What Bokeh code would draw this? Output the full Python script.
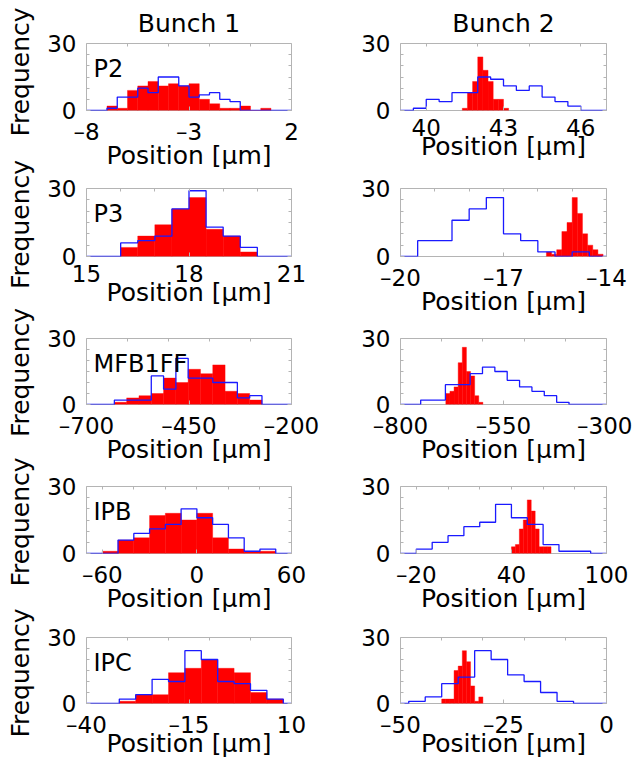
import math
from bokeh.plotting import figure
from bokeh.layouts import column, row
from bokeh.models import FixedTicker, LinearAxis, Label, Range1d, CustomJSTickFormatter
from bokeh.embed import file_html
from bokeh.resources import INLINE

FONT = "DejaVu Sans"
GREY = "#b4b4b4"
RED = "#ff0000"
BLUE = "#1a1aff"

# ---------------- data ----------------
# Row 1, Bunch 1 (P2)
p2_b1_range = [-8, 2]
p2_b1_ticks = [-8, -3, 2]
p2_b1_top_ticks = [-6, -4, -2, 0]
p2_b1_red_edges = [-7.0, -6.5, -6.0, -5.5, -5.0, -4.5, -4.0, -3.5, -3.0, -2.5, -2.0, -1.5, -1.0, -0.5, 0.0, 0.5, 1.0]
p2_b1_red_counts = [2, 1, 9, 11, 13, 11, 12, 11, 12, 5, 3, 1, 1, 2, 0, 1]
p2_b1_blue_edges = [-7.0, -6.5, -6.0, -5.5, -5.0, -4.5, -4.0, -3.5, -3.0, -2.5, -2.0, -1.5, -1.0, -0.5]
p2_b1_blue_counts = [1, 6, 6, 10, 8, 15, 15, 11, 6, 7, 8, 5, 4]

# Row 1, Bunch 2
p2_b2_range = [39, 47]
p2_b2_ticks = [40, 43, 46]
p2_b2_top_ticks = [40, 42, 44, 46]
p2_b2_red_edges = [41.4, 41.6, 41.8, 42.0, 42.2, 42.4, 42.6, 42.8, 43.0, 43.2]
p2_b2_red_counts = [1, 8, 13, 24, 18, 13, 5, 5, 1]
p2_b2_blue_edges = [39.5, 40.0, 40.5, 41.0, 41.5, 42.0, 42.5, 43.0, 43.5, 44.0, 44.5, 45.0, 45.5, 46.0]
p2_b2_blue_counts = [1, 5, 4, 8, 8, 15, 14, 11, 9, 11, 6, 4, 2]

# Row 2, Bunch 1 (P3)
p3_b1_range = [15, 21]
p3_b1_ticks = [15, 18, 21]
p3_b1_top_ticks = [16, 17, 18, 19, 20]
p3_b1_red_edges = [16.0, 16.5, 17.0, 17.5, 18.0, 18.5, 19.0, 19.5, 20.0]
p3_b1_red_counts = [4, 9, 14, 21, 26, 12, 9, 2]
p3_b1_blue_edges = [16.0, 16.5, 17.0, 17.5, 18.0, 18.5, 19.0, 19.5, 20.0]
p3_b1_blue_counts = [6, 7, 9, 21, 29, 13, 9, 4]

# Row 2, Bunch 2
p3_b2_range = [-20, -14]
p3_b2_ticks = [-20, -17, -14]
p3_b2_top_ticks = [-19, -18, -17, -16, -15]
p3_b2_red_edges = [-15.75, -15.6, -15.45, -15.3, -15.15, -15.0, -14.85, -14.7, -14.55, -14.4, -14.25, -14.1]
p3_b2_red_counts = [2, 1, 3, 11, 15, 26, 19, 10, 5, 3, 1]
p3_b2_blue_edges = [-19.5, -19.0, -18.5, -18.0, -17.5, -17.0, -16.5, -16.0, -15.5, -15.0, -14.5]
p3_b2_blue_counts = [7, 7, 16, 21, 26, 10, 7, 2, 0, 2]

# Row 3, Bunch 1 (MFB1FF)
mfb_b1_range = [-700, -200]
mfb_b1_ticks = [-700, -450, -200]
mfb_b1_top_ticks = [-600, -500, -400, -300]
mfb_b1_red_edges = [-632, -602, -572, -542, -512, -482, -452, -422, -392, -362, -332, -302, -272]
mfb_b1_red_counts = [1, 3, 4, 5, 12, 10, 16, 14, 18, 6, 5, 2]
mfb_b1_blue_edges = [-632, -602, -572, -542, -512, -482, -452, -422, -392, -362, -332, -302, -272]
mfb_b1_blue_counts = [2, 2, 2, 13, 7, 21, 12, 12, 10, 10, 3, 4]

# Row 3, Bunch 2
mfb_b2_range = [-800, -300]
mfb_b2_ticks = [-800, -550, -300]
mfb_b2_top_ticks = [-700, -600, -500, -400]
mfb_b2_red_edges = [-690, -680, -670, -660, -650, -640, -630, -620, -610, -600]
mfb_b2_red_counts = [5, 6, 8, 19, 26, 15, 13, 4, 1]
mfb_b2_blue_edges = [-751, -721, -691, -661, -631, -601, -571, -541, -511, -481, -451, -421, -391]
mfb_b2_blue_counts = [2, 2, 9, 9, 14, 17, 15, 11, 8, 6, 4, 1]

# Row 4, Bunch 1 (IPB)
ipb_b1_range = [-70, 60]
ipb_b1_ticks = [-60, 0, 60]
ipb_b1_top_ticks = [-60, -40, -20, 0, 20, 40]
ipb_b1_red_edges = [-60, -50, -40, -30, -20, -10, 0, 10, 20, 30, 40, 50]
ipb_b1_red_counts = [1, 6, 7, 17, 18, 15, 18, 7, 2, 1, 1]
ipb_b1_blue_edges = [-50, -40, -30, -20, -10, 0, 10, 20, 30, 40, 50]
ipb_b1_blue_counts = [6, 9, 11, 13, 20, 16, 13, 7, 1, 2]

# Row 4, Bunch 2
ipb_b2_range = [-30, 100]
ipb_b2_ticks = [-20, 40, 100]
ipb_b2_top_ticks = [-20, 0, 20, 40, 60, 80]
ipb_b2_red_edges = [40, 42.5, 45, 47.5, 50, 52.5, 55, 57.5, 60, 62.5, 65]
ipb_b2_red_counts = [3, 4, 11, 15, 24, 19, 11, 3, 3, 3]
ipb_b2_blue_edges = [-20, -10, 0, 10, 20, 30, 40, 50, 60, 70, 80, 90]
ipb_b2_blue_counts = [2, 5, 8, 12, 14, 22, 16, 13, 4, 1, 1]

# Row 5, Bunch 1 (IPC)
ipc_b1_range = [-40, 10]
ipc_b1_ticks = [-40, -15, 10]
ipc_b1_top_ticks = [-30, -20, -10, 0]
ipc_b1_red_edges = [-32, -28, -24, -20, -16, -12, -8, -4, 0, 4, 8]
ipc_b1_red_counts = [1, 4, 4, 14, 16, 20, 16, 14, 5, 2]
ipc_b1_blue_edges = [-32, -28, -24, -20, -16, -12, -8, -4, 0, 4, 8]
ipc_b1_blue_counts = [2, 4, 11, 10, 24, 20, 10, 9, 6, 2]

# Row 5, Bunch 2
ipc_b2_range = [-50, 0]
ipc_b2_ticks = [-50, -25, 0]
ipc_b2_top_ticks = [-40, -30, -20, -10]
ipc_b2_red_edges = [-40, -39, -38, -37, -36, -35, -34, -33, -32, -31, -30]
ipc_b2_red_counts = [2, 2, 2, 15, 17, 24, 19, 8, 1, 3]
ipc_b2_blue_edges = [-48, -44, -40, -36, -32, -28, -24, -20, -16, -12, -8]
ipc_b2_blue_counts = [1, 3, 9, 12, 24, 20, 13, 10, 5, 1]

row_names = ["P2", "P3", "MFB1FF", "IPB", "IPC"]
col_titles = ["Bunch 1", "Bunch 2"]
y_range_vals = [0, 30]
y_ticks = [0, 30]
y_minor_ticks = [5, 10, 15, 20, 25]
x_label = "Position [\u00b5m]"
y_label = "Frequency"

panels = [
    [
        (p2_b1_range, p2_b1_ticks, p2_b1_top_ticks, p2_b1_red_edges, p2_b1_red_counts, p2_b1_blue_edges, p2_b1_blue_counts),
        (p2_b2_range, p2_b2_ticks, p2_b2_top_ticks, p2_b2_red_edges, p2_b2_red_counts, p2_b2_blue_edges, p2_b2_blue_counts),
    ],
    [
        (p3_b1_range, p3_b1_ticks, p3_b1_top_ticks, p3_b1_red_edges, p3_b1_red_counts, p3_b1_blue_edges, p3_b1_blue_counts),
        (p3_b2_range, p3_b2_ticks, p3_b2_top_ticks, p3_b2_red_edges, p3_b2_red_counts, p3_b2_blue_edges, p3_b2_blue_counts),
    ],
    [
        (mfb_b1_range, mfb_b1_ticks, mfb_b1_top_ticks, mfb_b1_red_edges, mfb_b1_red_counts, mfb_b1_blue_edges, mfb_b1_blue_counts),
        (mfb_b2_range, mfb_b2_ticks, mfb_b2_top_ticks, mfb_b2_red_edges, mfb_b2_red_counts, mfb_b2_blue_edges, mfb_b2_blue_counts),
    ],
    [
        (ipb_b1_range, ipb_b1_ticks, ipb_b1_top_ticks, ipb_b1_red_edges, ipb_b1_red_counts, ipb_b1_blue_edges, ipb_b1_blue_counts),
        (ipb_b2_range, ipb_b2_ticks, ipb_b2_top_ticks, ipb_b2_red_edges, ipb_b2_red_counts, ipb_b2_blue_edges, ipb_b2_blue_counts),
    ],
    [
        (ipc_b1_range, ipc_b1_ticks, ipc_b1_top_ticks, ipc_b1_red_edges, ipc_b1_red_counts, ipc_b1_blue_edges, ipc_b1_blue_counts),
        (ipc_b2_range, ipc_b2_ticks, ipc_b2_top_ticks, ipc_b2_red_edges, ipc_b2_red_counts, ipc_b2_blue_edges, ipc_b2_blue_counts),
    ],
]

# ---------------- layout geometry (page has no margin) ----------------
strip_width = 44
col_widths = [276, 312]
col_left = [40, 80]
col_right = [29, 26]
row_heights = [172, 147, 148, 148, 145]
row_top = [43, 16, 19, 19, 22]
row_bottom = [62, 63, 63, 62, 56]
row_lbl_standoff = [8, 8, 8, 8, 8]
row_axlbl_standoff = [-7, -7, -7, -7, -12]
freq_shift = [-5, 2, 1, 2, 2]
total_height = sum(row_heights)

minus_fmt = CustomJSTickFormatter(code="""
    return tick < 0 ? "\\u2013" + Math.abs(tick) : String(tick);
""")
blank_fmt = CustomJSTickFormatter(code="return '';")


def make_panel(ri, ci, spec):
    xr, ticks, top_ticks, r_edges, r_counts, b_edges, b_counts = spec
    p = figure(
        width=col_widths[ci], height=row_heights[ri],
        x_range=Range1d(xr[0], xr[1]), y_range=Range1d(y_range_vals[0], y_range_vals[1]),
        output_backend="svg", toolbar_location=None,
        min_border_left=col_left[ci], min_border_right=col_right[ci],
        min_border_top=row_top[ri], min_border_bottom=row_bottom[ri],
        background_fill_color="white", border_fill_color="white",
    )
    p.grid.visible = False
    p.outline_line_color = GREY
    p.outline_line_width = 1

    # red filled histogram
    p.quad(left=r_edges[:-1], right=r_edges[1:], bottom=0, top=r_counts,
           fill_color=RED, line_color=RED, line_width=0.4)
    # blue outline histogram (step)
    bx = [xr[0]] + list(b_edges) + [xr[1]]
    by = [0] + list(b_counts) + [0, 0]
    p.step(x=bx, y=by, mode="after", line_color=BLUE, line_width=1.3)

    # bottom axis
    xa = p.xaxis[0]
    xa.ticker = FixedTicker(ticks=ticks, minor_ticks=[])
    xa.formatter = minus_fmt
    xa.axis_line_color = None
    xa.major_tick_in = 4
    xa.major_tick_out = 0
    xa.major_tick_line_color = GREY
    xa.major_label_text_font = FONT
    xa.major_label_text_font_size = "23px"
    xa.major_label_text_color = "black"
    xa.major_label_standoff = row_lbl_standoff[ri]
    xa.axis_label = x_label
    xa.axis_label_text_font = FONT
    xa.axis_label_text_font_size = "25px"
    xa.axis_label_text_font_style = "normal"
    xa.axis_label_text_color = "black"
    xa.axis_label_standoff = row_axlbl_standoff[ri]

    # left axis
    ya = p.yaxis[0]
    ya.ticker = FixedTicker(ticks=y_ticks, minor_ticks=y_minor_ticks)
    ya.axis_line_color = None
    ya.major_tick_in = 4
    ya.major_tick_out = 0
    ya.minor_tick_in = 3
    ya.minor_tick_out = 0
    ya.major_tick_line_color = GREY
    ya.minor_tick_line_color = GREY
    ya.major_label_text_font = FONT
    ya.major_label_text_font_size = "23px"
    ya.major_label_text_color = "black"
    ya.major_label_standoff = 10

    # top axis (ticks only)
    ta = LinearAxis(ticker=FixedTicker(ticks=top_ticks, minor_ticks=[]), formatter=blank_fmt,
                    axis_line_color=None, major_tick_in=3, major_tick_out=0,
                    major_tick_line_color=GREY, major_label_text_font_size="1px",
                    major_label_standoff=0)
    p.add_layout(ta, "above")
    # right axis (ticks only)
    ra = LinearAxis(ticker=FixedTicker(ticks=y_ticks, minor_ticks=y_minor_ticks), formatter=blank_fmt,
                    axis_line_color=None, major_tick_in=4, major_tick_out=0,
                    minor_tick_in=3, minor_tick_out=0,
                    major_tick_line_color=GREY, minor_tick_line_color=GREY,
                    major_label_text_font_size="1px", major_label_standoff=0)
    p.add_layout(ra, "right")

    if ri == 0:
        p.title.text = col_titles[ci]
        p.title.align = "center"
        p.title.text_font = FONT
        p.title.text_font_size = "25px"
        p.title.text_font_style = "normal"
        p.title.text_color = "black"
        p.title.standoff = 11

    if ci == 0:
        p.add_layout(Label(x=xr[0], y=y_range_vals[1], x_offset=7, y_offset=-11,
                           text=row_names[ri], text_font=FONT, text_font_size="24px",
                           text_baseline="top", text_align="left", text_color="black"))
    return p


# left strip carrying the rotated "Frequency" labels, one per row
strip = figure(width=strip_width, height=total_height,
               x_range=Range1d(0, strip_width), y_range=Range1d(0, total_height),
               output_backend="svg", toolbar_location=None,
               min_border=0, min_border_left=0, min_border_right=0,
               min_border_top=0, min_border_bottom=0,
               background_fill_color="white", border_fill_color="white")
strip.axis.visible = False
strip.grid.visible = False
strip.outline_line_color = None
acc = 0
for ri in range(5):
    frame_h = row_heights[ri] - row_top[ri] - row_bottom[ri]
    center_from_top = acc + row_top[ri] + frame_h / 2 + freq_shift[ri]
    strip.add_layout(Label(x=strip_width / 2 - 2, y=total_height - center_from_top,
                           text=y_label, angle=math.pi / 2, text_font=FONT,
                           text_font_size="25px", text_align="center",
                           text_baseline="middle", text_color="black"))
    acc += row_heights[ri]

rows = []
for ri in range(5):
    rows.append(row(*[make_panel(ri, ci, panels[ri][ci]) for ci in range(2)]))
layout = row(strip, column(*rows))

open("out.html", "w").write(file_html(layout, INLINE))
